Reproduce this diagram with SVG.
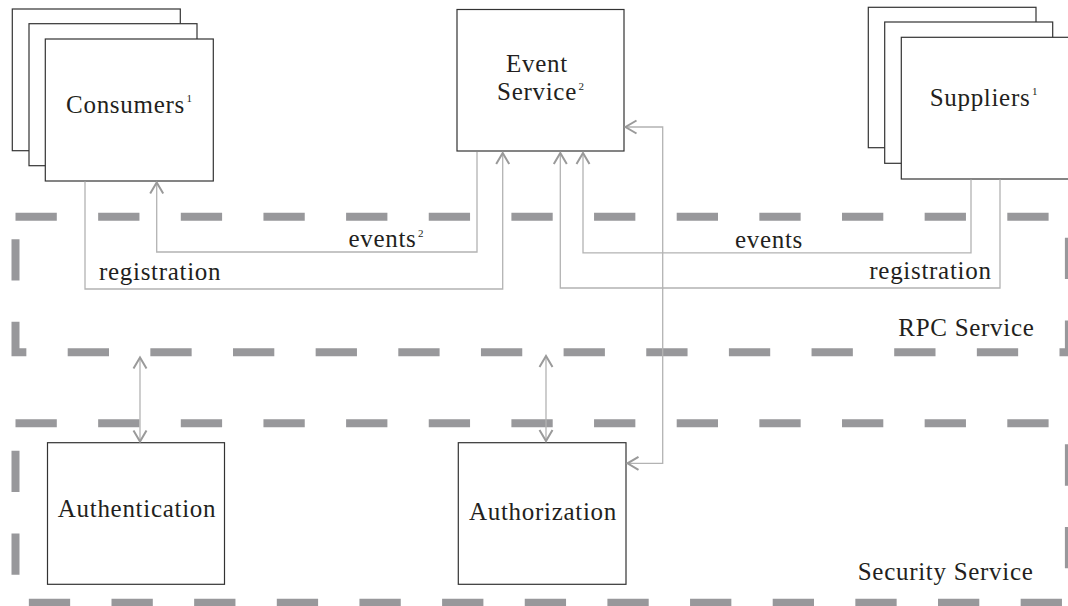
<svg xmlns="http://www.w3.org/2000/svg" width="1068" height="606" viewBox="0 0 1068 606">
<style>
.box{fill:#fff;stroke:#333;stroke-width:1.2}
.zone{fill:none;stroke:#98989b;stroke-width:8;stroke-dasharray:41.3 41.35}
.conn{fill:none;stroke:#b3b3b3;stroke-width:1.3}
.lbl{font-family:"Liberation Serif",serif;font-size:25px;fill:#231f20;letter-spacing:0.7px}
.sup{font-size:11px;letter-spacing:0}
</style>
<defs>
<marker id="arr" markerUnits="userSpaceOnUse" orient="auto-start-reverse" overflow="visible" markerWidth="1" markerHeight="1" refX="0" refY="0">
<path d="M-11,-6.5 L0,0 L-11,6.5" fill="none" stroke="#9a9a9a" stroke-width="2"/>
</marker>
</defs>
<g id="rpc-service">
<rect class="zone" x="15.5" y="216.7" width="1053.4" height="135.6"/>
<text class="lbl" x="1034.5" y="336" text-anchor="end">RPC Service</text>
</g>
<g id="security-service">
<rect class="zone" x="15.5" y="423.3" width="1053.4" height="179.4"/>
<text class="lbl" x="1033.5" y="580" text-anchor="end">Security Service</text>
</g>
<g id="consumers">
<rect class="box" x="12.3" y="9" width="168" height="141.7"/>
<rect class="box" x="29" y="23.7" width="168" height="142"/>
<rect class="box" x="45.3" y="39" width="168" height="142"/>
<text class="lbl" x="129" y="112.7" text-anchor="middle">Consumers<tspan class="sup" dx="1.5" dy="-11">1</tspan></text>
</g>
<g id="event-service">
<rect class="box" x="457" y="9.5" width="167" height="141.5"/>
<text class="lbl" text-anchor="middle"><tspan x="537" y="72">Event</tspan><tspan x="540.5" y="100">Service</tspan><tspan class="sup" dx="1.5" dy="-10">2</tspan></text>
</g>
<g id="suppliers">
<rect class="box" x="868.3" y="7.3" width="167.7" height="140.4"/>
<rect class="box" x="884.7" y="22" width="168" height="141.3"/>
<rect class="box" x="901.3" y="37.3" width="168" height="141.7"/>
<text class="lbl" x="983.5" y="106" text-anchor="middle">Suppliers<tspan class="sup" dx="1.5" dy="-11">1</tspan></text>
</g>
<g id="authentication">
<rect class="box" x="47.5" y="442.7" width="177" height="141.6"/>
<text class="lbl" x="137" y="516.7" text-anchor="middle">Authentication</text>
</g>
<g id="authorization">
<rect class="box" x="458.3" y="442.7" width="167.7" height="141.6"/>
<text class="lbl" x="543" y="520" text-anchor="middle">Authorization</text>
</g>
<g id="connectors">
<path class="conn" d="M85,181.5 V289 H502.7 V153" marker-end="url(#arr)"/>
<path class="conn" d="M477,152 V252 H156.7 V182.5" marker-end="url(#arr)"/>
<path class="conn" d="M971,179.5 V252.8 H583 V153" marker-end="url(#arr)"/>
<path class="conn" d="M1000,179.5 V288 H560.3 V153" marker-end="url(#arr)"/>
<path class="conn" d="M625.5,127 H662.7 V463.3 H627.5" marker-start="url(#arr)" marker-end="url(#arr)"/>
<path class="conn" d="M140,357.5 V441.5" marker-start="url(#arr)" marker-end="url(#arr)"/>
<path class="conn" d="M546,356 V441" marker-start="url(#arr)" marker-end="url(#arr)"/>
<text class="lbl" x="386" y="246.7" text-anchor="middle">events<tspan class="sup" dx="1.5" dy="-10">2</tspan></text>
<text class="lbl" x="769" y="248" text-anchor="middle">events</text>
<text class="lbl" x="99" y="280">registration</text>
<text class="lbl" x="991.6" y="279" text-anchor="end">registration</text>
</g>
</svg>
